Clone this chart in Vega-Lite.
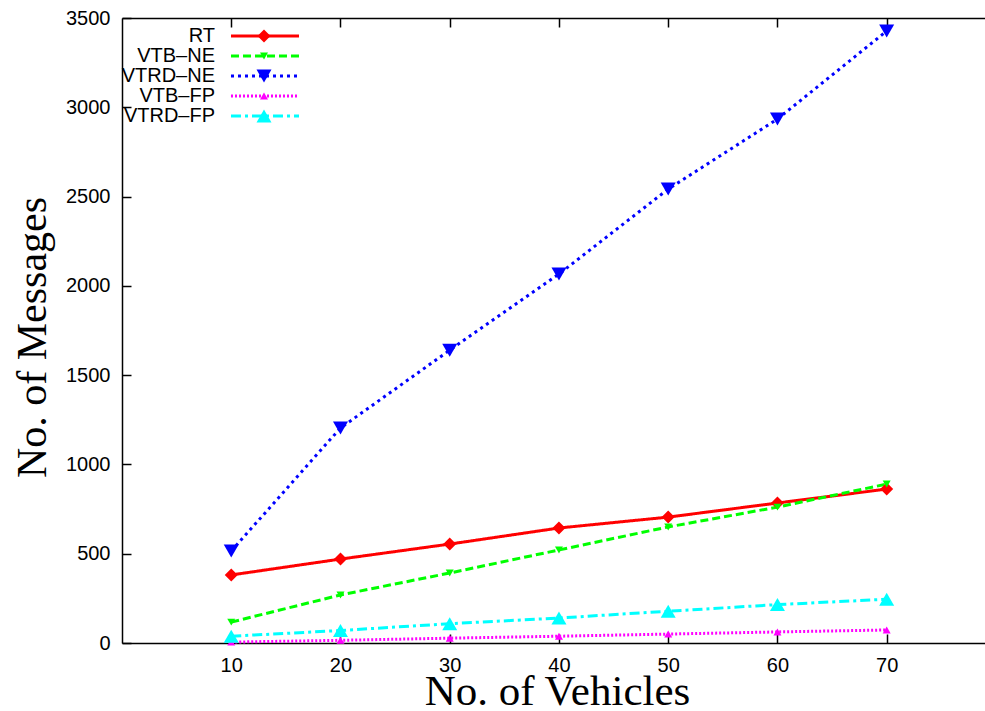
{
  "$schema": "https://vega.github.io/schema/vega-lite/v6.json",
  "width": 863,
  "height": 625,
  "autosize": {"type": "none"},
  "padding": {"left": 122, "top": 18, "right": 0, "bottom": 68},
  "background": "white",
  "config": {
    "view": {"stroke": null},
    "axis": {
      "grid": false,
      "domainColor": "black",
      "tickColor": "black",
      "labelColor": "black",
      "titleColor": "black",
      "labelFont": "Liberation Sans",
      "labelFontSize": 20,
      "titleFont": "Liberation Serif",
      "titleFontWeight": "normal",
      "tickSize": -9,
      "labelPadding": 21,
      "domainWidth": 1.5,
      "tickWidth": 1.5
    }
  },
  "data": {
    "values": [
      {"vehicles": 10, "series": "RT", "messages": 381},
      {"vehicles": 20, "series": "RT", "messages": 470},
      {"vehicles": 30, "series": "RT", "messages": 554},
      {"vehicles": 40, "series": "RT", "messages": 644},
      {"vehicles": 50, "series": "RT", "messages": 705},
      {"vehicles": 60, "series": "RT", "messages": 784},
      {"vehicles": 70, "series": "RT", "messages": 862},
      {"vehicles": 10, "series": "VTB–NE", "messages": 117},
      {"vehicles": 20, "series": "VTB–NE", "messages": 269},
      {"vehicles": 30, "series": "VTB–NE", "messages": 392},
      {"vehicles": 40, "series": "VTB–NE", "messages": 521},
      {"vehicles": 50, "series": "VTB–NE", "messages": 650},
      {"vehicles": 60, "series": "VTB–NE", "messages": 761},
      {"vehicles": 70, "series": "VTB–NE", "messages": 890},
      {"vehicles": 10, "series": "VTRD–NE", "messages": 515},
      {"vehicles": 20, "series": "VTRD–NE", "messages": 1204},
      {"vehicles": 30, "series": "VTRD–NE", "messages": 1640},
      {"vehicles": 40, "series": "VTRD–NE", "messages": 2066},
      {"vehicles": 50, "series": "VTRD–NE", "messages": 2542},
      {"vehicles": 60, "series": "VTRD–NE", "messages": 2934},
      {"vehicles": 70, "series": "VTRD–NE", "messages": 3427},
      {"vehicles": 10, "series": "VTB–FP", "messages": 5},
      {"vehicles": 20, "series": "VTB–FP", "messages": 15},
      {"vehicles": 30, "series": "VTB–FP", "messages": 27},
      {"vehicles": 40, "series": "VTB–FP", "messages": 38},
      {"vehicles": 50, "series": "VTB–FP", "messages": 50},
      {"vehicles": 60, "series": "VTB–FP", "messages": 62},
      {"vehicles": 70, "series": "VTB–FP", "messages": 73},
      {"vehicles": 10, "series": "VTRD–FP", "messages": 38},
      {"vehicles": 20, "series": "VTRD–FP", "messages": 70},
      {"vehicles": 30, "series": "VTRD–FP", "messages": 108},
      {"vehicles": 40, "series": "VTRD–FP", "messages": 140},
      {"vehicles": 50, "series": "VTRD–FP", "messages": 178},
      {"vehicles": 60, "series": "VTRD–FP", "messages": 215},
      {"vehicles": 70, "series": "VTRD–FP", "messages": 245}
    ]
  },
  "resolve": {
    "axis": {"x": "independent"},
    "legend": {"color": "independent", "strokeDash": "independent", "shape": "independent", "size": "independent"}
  },
  "layer": [
    {
      "mark": {"type": "line", "strokeWidth": 3},
      "encoding": {
        "x": {
          "field": "vehicles",
          "type": "quantitative",
          "scale": {"domain": [0, 79], "nice": false, "zero": false},
          "axis": {
            "orient": "bottom",
            "values": [10, 20, 30, 40, 50, 60, 70],
            "title": "No. of Vehicles",
            "titleFontSize": 43,
            "titleX": 435,
            "titleY": 61,
            "titleBaseline": "alphabetic",
            "titleAlign": "center"
          }
        },
        "y": {
          "field": "messages",
          "type": "quantitative",
          "scale": {"domain": [0, 3500], "nice": false},
          "axis": {
            "orient": "left",
            "format": "d",
            "values": [0, 500, 1000, 1500, 2000, 2500, 3000, 3500],
            "title": "No. of Messages",
            "titleFontSize": 42,
            "titleX": -77,
            "titleY": 319,
            "titleAngle": -90,
            "titleBaseline": "alphabetic",
            "titleAlign": "center"
          }
        },
        "color": {
          "field": "series",
          "type": "nominal",
          "scale": {
            "domain": ["RT", "VTB–NE", "VTRD–NE", "VTB–FP", "VTRD–FP"],
            "range": ["#ff0000", "#00ff00", "#0000ff", "#ff00ff", "#00ffff"]
          },
          "legend": {
            "orient": "none",
            "legendX": 133,
            "legendY": 8,
            "title": null,
            "padding": 0,
            "symbolType": "M-5,0H5",
            "symbolSize": 185,
            "symbolStrokeWidth": 3,
            "labelAlign": "right",
            "labelOffset": -60,
            "labelFont": "Liberation Sans",
            "labelFontSize": 20,
            "labelColor": "black",
            "labelLimit": 0,
            "rowPadding": 0
          }
        },
        "strokeDash": {
          "field": "series",
          "type": "nominal",
          "scale": {
            "domain": ["RT", "VTB–NE", "VTRD–NE", "VTB–FP", "VTRD–FP"],
            "range": [[1, 0], [8, 4], [3, 4], [2, 2], [10, 4, 3, 4]]
          },
          "legend": {
            "orient": "none",
            "legendX": 133,
            "legendY": 8,
            "title": null,
            "padding": 0,
            "symbolType": "M-5,0H5",
            "symbolSize": 185,
            "symbolStrokeWidth": 3,
            "labelAlign": "right",
            "labelOffset": -60,
            "labelFont": "Liberation Sans",
            "labelFontSize": 20,
            "labelColor": "black",
            "labelLimit": 0,
            "rowPadding": 0
          }
        }
      }
    },
    {
      "mark": {"type": "point", "filled": true, "opacity": 1, "strokeWidth": 0},
      "encoding": {
        "x": {
          "field": "vehicles",
          "type": "quantitative",
          "axis": {
            "orient": "top",
            "values": [10, 20, 30, 40, 50, 60, 70],
            "labels": false,
            "title": null
          }
        },
        "y": {
          "field": "messages",
          "type": "quantitative",
          "axis": {
            "orient": "left",
            "format": "d",
            "values": [0, 500, 1000, 1500, 2000, 2500, 3000, 3500],
            "title": "No. of Messages",
            "titleFontSize": 42,
            "titleX": -77,
            "titleY": 319,
            "titleAngle": -90,
            "titleBaseline": "alphabetic",
            "titleAlign": "center"
          }
        },
        "color": {
          "field": "series",
          "type": "nominal",
          "legend": {
            "orient": "none",
            "legendX": 133,
            "legendY": 9,
            "title": null,
            "padding": 0,
            "labelOpacity": 0,
            "labelFont": "Liberation Sans",
            "labelFontSize": 18,
            "rowPadding": 2,
            "symbolStrokeWidth": 0,
            "symbolOpacity": 1
          }
        },
        "shape": {
          "field": "series",
          "type": "nominal",
          "scale": {
            "domain": ["RT", "VTB–NE", "VTRD–NE", "VTB–FP", "VTRD–FP"],
            "range": ["diamond", "triangle-down", "triangle-down", "triangle-up", "triangle-up"]
          },
          "legend": {
            "orient": "none",
            "legendX": 133,
            "legendY": 9,
            "title": null,
            "padding": 0,
            "labelOpacity": 0,
            "labelFont": "Liberation Sans",
            "labelFontSize": 18,
            "rowPadding": 2,
            "symbolStrokeWidth": 0,
            "symbolOpacity": 1
          }
        },
        "size": {
          "field": "series",
          "type": "nominal",
          "scale": {
            "type": "ordinal",
            "domain": ["RT", "VTB–NE", "VTRD–NE", "VTB–FP", "VTRD–FP"],
            "range": [169, 64, 225, 64, 225]
          },
          "legend": {
            "orient": "none",
            "legendX": 133,
            "legendY": 9,
            "title": null,
            "padding": 0,
            "labelOpacity": 0,
            "labelFont": "Liberation Sans",
            "labelFontSize": 18,
            "rowPadding": 2,
            "symbolStrokeWidth": 0,
            "symbolOpacity": 1
          }
        }
      }
    }
  ]
}
